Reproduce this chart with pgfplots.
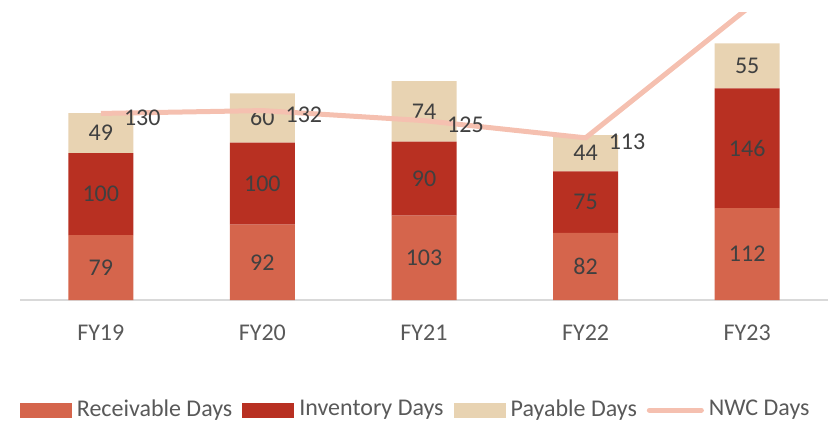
\documentclass[border=0pt]{standalone}
\usepackage{pgfplots}
\usepackage{pgfplotstable}
\pgfplotsset{compat=1.18}
\usepackage{fontspec}
\setmainfont{Carlito}
\definecolor{rec}{HTML}{D5654C}
\definecolor{inv}{HTML}{B83022}
\definecolor{pay}{HTML}{E8D3B2}
\definecolor{nwc}{HTML}{F5C0B0}
\definecolor{lbl}{HTML}{404040}
\definecolor{tck}{HTML}{595959}
\pgfplotstableread{
x R I P N
0 79 100 49 130
1 92 100 60 132
2 103 90 74 125
3 82 75 44 113
4 112 146 55 203
}\data
\newcommand\bigf{\fontsize{24pt}{28pt}\selectfont}
\begin{document}
\bigf
\begin{tikzpicture}
\pgfplotsset{
  base/.style={
    scale only axis, width=808pt, height=287pt,
    at={(20pt,121pt)}, anchor=south west,
    xmin=-0.5, xmax=4.5,
    /pgf/number format/assume math mode=true,
  }
}
\path[use as bounding box] (0,0) rectangle (828pt,421pt);
% bars
\begin{axis}[base,
  ymin=0, ymax=350,
  ybar stacked, bar width=65pt,
  axis y line=none,
  axis x line*=bottom,
  x axis line style={draw=black!15, line width=1.5pt, -},
  xtick={0,1,2,3,4},
  xticklabels={FY19,FY20,FY21,FY22,FY23},
  major tick length=0pt,
  xticklabel style={text=tck, font=\bigf, yshift=-17pt},
  legend columns=4,
  legend style={at={(0.4916,-0.3833)}, anchor=center, draw=none, fill=none,
    font=\bigf, text=tck,
    /tikz/every odd column/.append style={column sep=0pt},
    /tikz/every even column/.append style={column sep=5pt},
    nodes={inner xsep=5pt}},
  legend cell align=left,
]
\addplot[fill=rec, draw=none, legend image code/.code={\fill[rec] (0pt,-7.5pt) rectangle (52pt,7.5pt);}] table[x=x,y=R]{\data};
\addlegendentry{Receivable Days}
\addplot[fill=inv, draw=none, legend image code/.code={\fill[inv] (0pt,-7.5pt) rectangle (52pt,7.5pt);}] table[x=x,y=I]{\data};
\addlegendentry{Inventory Days}
\addplot[fill=pay, draw=none, legend image code/.code={\fill[pay] (0pt,-7.5pt) rectangle (52pt,7.5pt);}] table[x=x,y=P]{\data};
\addlegendentry{Payable Days}
\addlegendimage{legend image code/.code={\draw[nwc, line width=5pt, line cap=round] (2.5pt,0pt) -- (54.5pt,0pt);}}
\addlegendentry{NWC Days}
\end{axis}
% bar labels
\begin{axis}[base, ymin=0, ymax=350, hide axis,
  nodes near coords, point meta=explicit,
  every node near coord/.append style={anchor=center, text=lbl, font=\bigf}]
\addplot[draw=none, mark=none] table[x=x, y expr=\thisrow{R}/2, meta=R]{\data};
\addplot[draw=none, mark=none] table[x=x, y expr=\thisrow{R}+\thisrow{I}/2, meta=I]{\data};
\addplot[draw=none, mark=none] table[x=x, y expr=\thisrow{R}+\thisrow{I}+\thisrow{P}/2, meta=P]{\data};
\end{axis}
% NWC line
\begin{axis}[base, ymin=0, ymax=200, hide axis]
\addplot[nwc, line width=5pt, mark=none] table[x=x,y=N]{\data};
\addplot[draw=none, mark=none, restrict x to domain=0:3,
  nodes near coords, point meta=explicit,
  every node near coord/.append style={anchor=west, xshift=15pt, yshift=-4pt, text=lbl, font=\bigf}]
  table[x=x, y=N, meta=N]{\data};
\end{axis}
\end{tikzpicture}
\end{document}
